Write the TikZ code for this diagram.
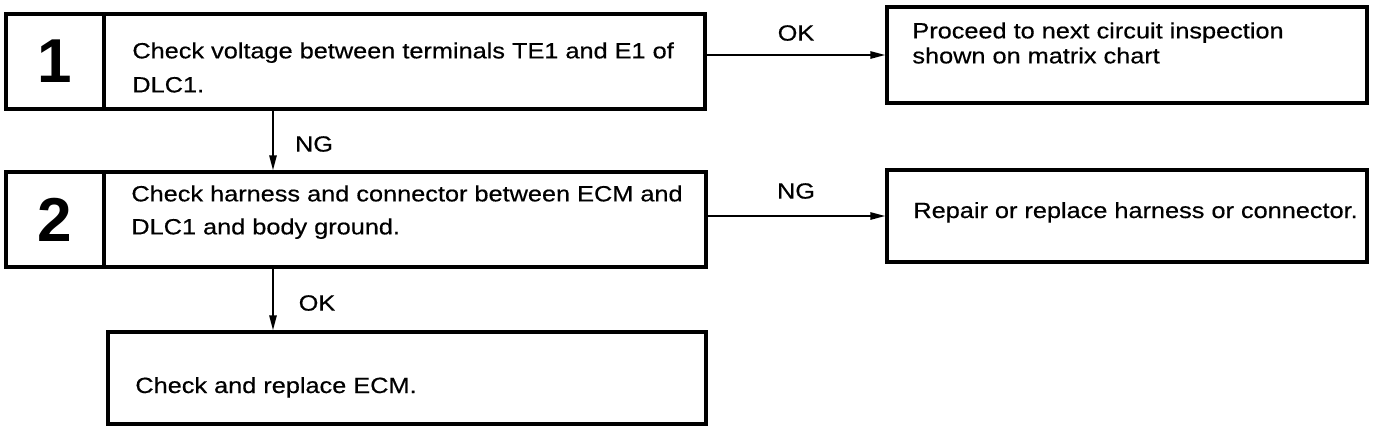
\documentclass[tikz,border=0pt]{standalone}
\usepackage{fontspec}
\setmainfont{Liberation Sans}
\newfontfamily\diagfont[FakeStretch=1.15,FakeBold=0.5]{Liberation Sans}
\usetikzlibrary{arrows.meta}
\begin{document}
\begin{tikzpicture}[x=0.5pt,y=-0.5pt,
  boxst/.style={draw,line width=1.6pt,rectangle,inner sep=0pt},
  numst/.style={draw,line width=1.6pt,rectangle,inner sep=0pt,
     font=\fontsize{31}{31}\selectfont\bfseries},
  txt/.style={inner sep=0pt,align=left},
  lbl/.style={inner sep=0pt,font=\diagfont\fontsize{11}{13}\selectfont},
  arr/.style={line width=1pt,-{Triangle[length=7.5pt,width=3.6pt]}}]
\useasboundingbox (0,0) rectangle (1376,446);
% boxes
\node[boxst,minimum width=349.5pt,minimum height=47.5pt] (b1) at (355.5,61.5) {};
\node[numst,minimum width=49pt,minimum height=47.5pt] (n1) at (55,61.5) {1};
\node[boxst,minimum width=350pt,minimum height=47.5pt] (b2) at (356,219.5) {};
\node[numst,minimum width=49pt,minimum height=47.5pt] (n2) at (55,219.5) {2};
\node[boxst,minimum width=240pt,minimum height=48pt] (r1) at (1127,55) {};
\node[boxst,minimum width=240pt,minimum height=46pt] (r2) at (1127,216) {};
\node[boxst,minimum width=299pt,minimum height=46pt] (b3) at (407,378) {};
% texts
\node[txt,anchor=north west,font=\diagfont\fontsize{11}{17}\selectfont] (t1) at (132,42)
  {Check voltage between terminals TE1 and E1 of\\DLC1.};
\node[txt,anchor=north west,font=\diagfont\fontsize{11}{16.5}\selectfont] (t2) at (131,185)
  {Check harness and connector between ECM and\\DLC1 and body ground.};
\node[txt,anchor=north west,font=\diagfont\fontsize{11}{12.5}\selectfont] (tr1) at (912,22)
  {Proceed to next circuit inspection\\shown on matrix chart};
\node[txt,anchor=base west,font=\diagfont\fontsize{11}{13}\selectfont] (tr2) at (913,218)
  {Repair or replace harness or connector.};
\node[txt,anchor=base west,font=\diagfont\fontsize{11}{13}\selectfont] (t3) at (135,393)
  {Check and replace ECM.};
% connectors
\coordinate (vx) at (273,0);
\draw[arr] (b1.east |- r1.west) -- (r1.west);
\draw[arr] (b2.east |- r2.west) -- (r2.west);
\draw[arr] (b1.south -| vx) -- (b2.north -| vx);
\draw[arr] (b2.south -| vx) -- (b3.north -| vx);
% labels
\node[lbl] (l1) at (796,33) {OK};
\node[lbl] (l2) at (314,144) {NG};
\node[lbl] (l3) at (796,191) {NG};
\node[lbl] (l4) at (317,303) {OK};
\end{tikzpicture}
\end{document}
